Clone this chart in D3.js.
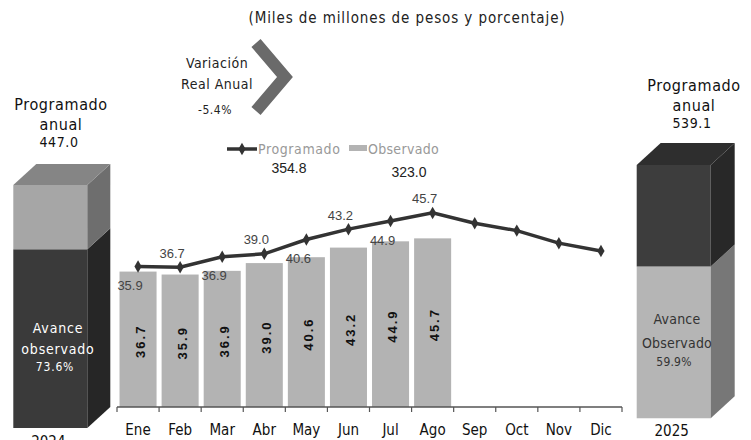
<!DOCTYPE html>
<html>
    <head>
        <meta charset="utf-8">
        <script src="https://d3js.org/d3.v7.min.js"></script>
        <style>
            body { margin: 0; background: #fff; }
            .cond { font-family: "DejaVu Sans Condensed", "DejaVu Sans", sans-serif; font-stretch: condensed; }
            .arial { font-family: "Liberation Sans", Arial, sans-serif; }
        </style>
    </head>

    <body>
        <div id="chart-container"></div>

        <script>
            // Data
            var months = ["Ene", "Feb", "Mar", "Abr", "May", "Jun", "Jul", "Ago", "Sep", "Oct", "Nov", "Dic"];
            var observado = [36.7, 35.9, 36.9, 39.0, 40.6, 43.2, 44.9, 45.7];
            var programado = [38.1, 37.9, 40.7, 41.5, 45.4, 48.2, 50.4, 52.6, 49.8, 47.8, 44.4, 42.3];
            var lineLabels = ["35.9", "36.7", "36.9", "39.0", "40.6", "43.2", "44.9", "45.7"];
            var years = ["2024", "2025"];
            var programadoAnual = [447.0, 539.1];
            var avancePct = [73.6, 59.9];
            var acumProgramado = 354.8;
            var acumObservado = 323.0;
            var variacionReal = -5.4;

            var width = 751, height = 440;

            var svg = d3.select("#chart-container")
                .append("svg")
                    .attr("width", width)
                    .attr("height", height);

            svg.append("rect").attr("width", width).attr("height", height).attr("fill", "#fff");

            // scales
            var x = d3.scaleBand()
                .domain(months)
                .range([117, 622])
                .paddingInner(0.12)
                .paddingOuter(0.06);

            var y = d3.scaleLinear()
                .domain([0, 60])
                .range([407, 185.6]);

            // title
            svg.append("text")
                .attr("class", "cond")
                .attr("x", 407)
                .attr("y", 23)
                .attr("text-anchor", "middle")
                .attr("font-size", 15)
                .attr("letter-spacing", 0.9)
                .attr("fill", "#222")
                .text("(Miles de millones de pesos y porcentaje)");

            // bars
            svg.append("g")
                .selectAll("rect")
                .data(observado)
                .enter()
                .append("rect")
                    .attr("x", function(d, i) { return x(months[i]); })
                    .attr("y", function(d) { return y(d); })
                    .attr("width", x.bandwidth())
                    .attr("height", function(d) { return y(0) - y(d); })
                    .attr("fill", "#b3b3b3");

            // labels inside bars
            svg.append("g")
                .selectAll("text")
                .data(observado)
                .enter()
                .append("text")
                    .attr("class", "arial")
                    .attr("transform", function(d, i) {
                        var cx = x(months[i]) + x.bandwidth() / 2 + 2;
                        var cy = (y(d) + y(0)) / 2 + 2;
                        return "translate(" + cx + "," + cy + ") rotate(-90)";
                    })
                    .attr("text-anchor", "middle")
                    .attr("dy", "0.35em")
                    .attr("font-size", 13)
                    .attr("font-weight", "bold")
                    .attr("letter-spacing", 2)
                    .attr("fill", "#111")
                    .text(function(d) { return d.toFixed(1); });

            // x axis
            var axisG = svg.append("g")
                .attr("transform", "translate(0," + y(0) + ")");
            axisG.append("line")
                .attr("x1", 117).attr("x2", 622)
                .attr("stroke", "#555").attr("stroke-width", 1.5);
            axisG.selectAll(".tick")
                .data(months.concat([""]))
                .enter()
                .append("line")
                    .attr("x1", function(d, i) { return 117 + i * x.step(); })
                    .attr("x2", function(d, i) { return 117 + i * x.step(); })
                    .attr("y1", 0).attr("y2", 5)
                    .attr("stroke", "#555").attr("stroke-width", 1.2);
            axisG.selectAll(".mlabel")
                .data(months)
                .enter()
                .append("text")
                    .attr("class", "cond")
                    .attr("x", function(d) { return x(d) + x.bandwidth() / 2; })
                    .attr("y", 28)
                    .attr("text-anchor", "middle")
                    .attr("font-size", 15)
                    .attr("fill", "#111")
                    .text(function(d) { return d; });

            // programado line
            var line = d3.line()
                .x(function(d, i) { return x(months[i]) + x.bandwidth() / 2; })
                .y(function(d) { return y(d); });

            svg.append("path")
                .datum(programado)
                .attr("d", line)
                .attr("fill", "none")
                .attr("stroke", "#333")
                .attr("stroke-width", 3.5);

            var diamond = d3.symbol().type(d3.symbolDiamond).size(45);
            svg.append("g")
                .selectAll("path")
                .data(programado)
                .enter()
                .append("path")
                    .attr("d", diamond)
                    .attr("transform", function(d, i) {
                        return "translate(" + (x(months[i]) + x.bandwidth() / 2) + "," + y(d) + ")";
                    })
                    .attr("fill", "#333");

            // line labels, alternating below / above
            svg.append("g")
                .selectAll("text")
                .data(lineLabels)
                .enter()
                .append("text")
                    .attr("class", "arial")
                    .attr("x", function(d, i) { return x(months[i]) + x.bandwidth() / 2 - 8; })
                    .attr("y", function(d, i) { return y(programado[i]) + (i % 2 == 0 ? 19 : -14); })
                    .attr("dy", "0.35em")
                    .attr("text-anchor", "middle")
                    .attr("font-size", 13)
                    .attr("fill", "#444")
                    .text(function(d) { return d; });

            // legend
            var legend = svg.append("g");
            legend.append("line")
                .attr("x1", 227).attr("x2", 257).attr("y1", 149).attr("y2", 149)
                .attr("stroke", "#333").attr("stroke-width", 3.5);
            legend.append("path")
                .attr("d", diamond)
                .attr("transform", "translate(242,149)")
                .attr("fill", "#333");
            legend.append("text")
                .attr("class", "cond")
                .attr("x", 258).attr("y", 149).attr("dy", "0.35em")
                .attr("font-size", 14).attr("letter-spacing", 0.6).attr("fill", "#999")
                .text("Programado");
            legend.append("rect")
                .attr("x", 349).attr("y", 145).attr("width", 18).attr("height", 6)
                .attr("fill", "#b3b3b3");
            legend.append("text")
                .attr("class", "cond")
                .attr("x", 368).attr("y", 149).attr("dy", "0.35em")
                .attr("font-size", 14).attr("letter-spacing", 0.3).attr("fill", "#999")
                .text("Observado");
            legend.append("text")
                .attr("class", "arial")
                .attr("x", 289).attr("y", 168).attr("dy", "0.35em")
                .attr("text-anchor", "middle")
                .attr("font-size", 14).attr("fill", "#222")
                .text(acumProgramado.toFixed(1));
            legend.append("text")
                .attr("class", "arial")
                .attr("x", 409).attr("y", 172).attr("dy", "0.35em")
                .attr("text-anchor", "middle")
                .attr("font-size", 14).attr("fill", "#222")
                .text(acumObservado.toFixed(1));

            // variacion real anual with chevron
            svg.append("path")
                .attr("d", d3.line()([[256, 43], [285, 77], [256, 111]]))
                .attr("fill", "none")
                .attr("stroke", "#6a6a6a")
                .attr("stroke-width", 12)
                .attr("stroke-linejoin", "miter");
            var varText = svg.append("text")
                .attr("class", "cond")
                .attr("text-anchor", "middle")
                .attr("font-size", 14)
                .attr("letter-spacing", 0.5)
                .attr("fill", "#222");
            varText.append("tspan").attr("x", 217).attr("y", 68).text("Variación");
            varText.append("tspan").attr("x", 217).attr("y", 89).text("Real Anual");
            varText.append("tspan").attr("x", 215).attr("y", 114).attr("font-size", 12)
                .text(variacionReal.toFixed(1) + "%");

            // annual cuboids
            var boxes = [
                {x0: 13.3, x1: 87.3, yBase: 428, yTop: 185, dx: 23, dy: 21,
                 lowFront: "#3a3a3a", lowSide: "#262626", upFront: "#a6a6a6", upSide: "#6e6e6e", top: "#858585",
                 txt: "#fff", labels: ["Avance", "observado"], tx: 58, ty: [328, 349, 367]},
                {x0: 636.7, x1: 710.7, yBase: 418.3, yTop: 165, dx: 24, dy: 22,
                 lowFront: "#b5b5b5", lowSide: "#777777", upFront: "#3d3d3d", upSide: "#282828", top: "#2e2e2e",
                 txt: "#333", labels: ["Avance", "Observado"], tx: 677, ty: [319, 343, 362]}
            ];

            boxes.forEach(function(b, i) {
                var s = d3.scaleLinear().domain([0, programadoAnual[i]]).range([b.yBase, b.yTop]);
                var split = s(programadoAnual[i] * avancePct[i] / 100);
                var g = svg.append("g");
                var faces = [
                    // lower front, lower side
                    {pts: [[b.x0, b.yBase], [b.x1, b.yBase], [b.x1, split], [b.x0, split]], c: b.lowFront},
                    {pts: [[b.x1, b.yBase], [b.x1 + b.dx, b.yBase - b.dy], [b.x1 + b.dx, split - b.dy], [b.x1, split]], c: b.lowSide},
                    // upper front, upper side
                    {pts: [[b.x0, split], [b.x1, split], [b.x1, s(programadoAnual[i])], [b.x0, s(programadoAnual[i])]], c: b.upFront},
                    {pts: [[b.x1, split], [b.x1 + b.dx, split - b.dy], [b.x1 + b.dx, s(programadoAnual[i]) - b.dy], [b.x1, s(programadoAnual[i])]], c: b.upSide},
                    // top
                    {pts: [[b.x0, s(programadoAnual[i])], [b.x1, s(programadoAnual[i])], [b.x1 + b.dx, s(programadoAnual[i]) - b.dy], [b.x0 + b.dx, s(programadoAnual[i]) - b.dy]], c: b.top}
                ];
                g.selectAll("polygon")
                    .data(faces)
                    .enter()
                    .append("polygon")
                        .attr("points", function(d) { return d.pts.map(function(p) { return p.join(","); }).join(" "); })
                        .attr("fill", function(d) { return d.c; });

                var t = g.append("text")
                    .attr("class", "cond")
                    .attr("text-anchor", "middle")
                    .attr("font-size", 14)
                    .attr("letter-spacing", i == 0 ? 0.8 : 0.2)
                    .attr("fill", b.txt);
                t.append("tspan").attr("x", b.tx).attr("y", b.ty[0]).attr("dy", "0.35em").text(b.labels[0]);
                t.append("tspan").attr("x", b.tx).attr("y", b.ty[1]).attr("dy", "0.35em").text(b.labels[1]);
                t.append("tspan").attr("x", b.tx - 3).attr("y", b.ty[2]).attr("dy", "0.35em").attr("font-size", 12)
                    .text(avancePct[i].toFixed(1) + "%");

                // year
                g.append("text")
                    .attr("class", "cond")
                    .attr("x", (b.x0 + b.x1) / 2 - 2)
                    .attr("y", i == 0 ? 447 : 436)
                    .attr("text-anchor", "middle")
                    .attr("font-size", 15)
                    .attr("fill", "#111")
                    .text(years[i]);
            });

            // programado anual headers
            var headers = [{x: 61, y: [110, 130, 147]}, {x: 694, y: [91, 111, 128]}];
            headers.forEach(function(h, i) {
                var t = svg.append("text")
                    .attr("class", "cond")
                    .attr("text-anchor", "middle")
                    .attr("font-size", 16)
                    .attr("letter-spacing", 0.6)
                    .attr("fill", "#111");
                t.append("tspan").attr("x", h.x).attr("y", h.y[0]).text("Programado");
                t.append("tspan").attr("x", h.x).attr("y", h.y[1]).text("anual");
                t.append("tspan").attr("x", h.x - 2).attr("y", h.y[2]).attr("font-size", 14)
                    .text(programadoAnual[i].toFixed(1));
            });
        </script>
    </body>
</html>
